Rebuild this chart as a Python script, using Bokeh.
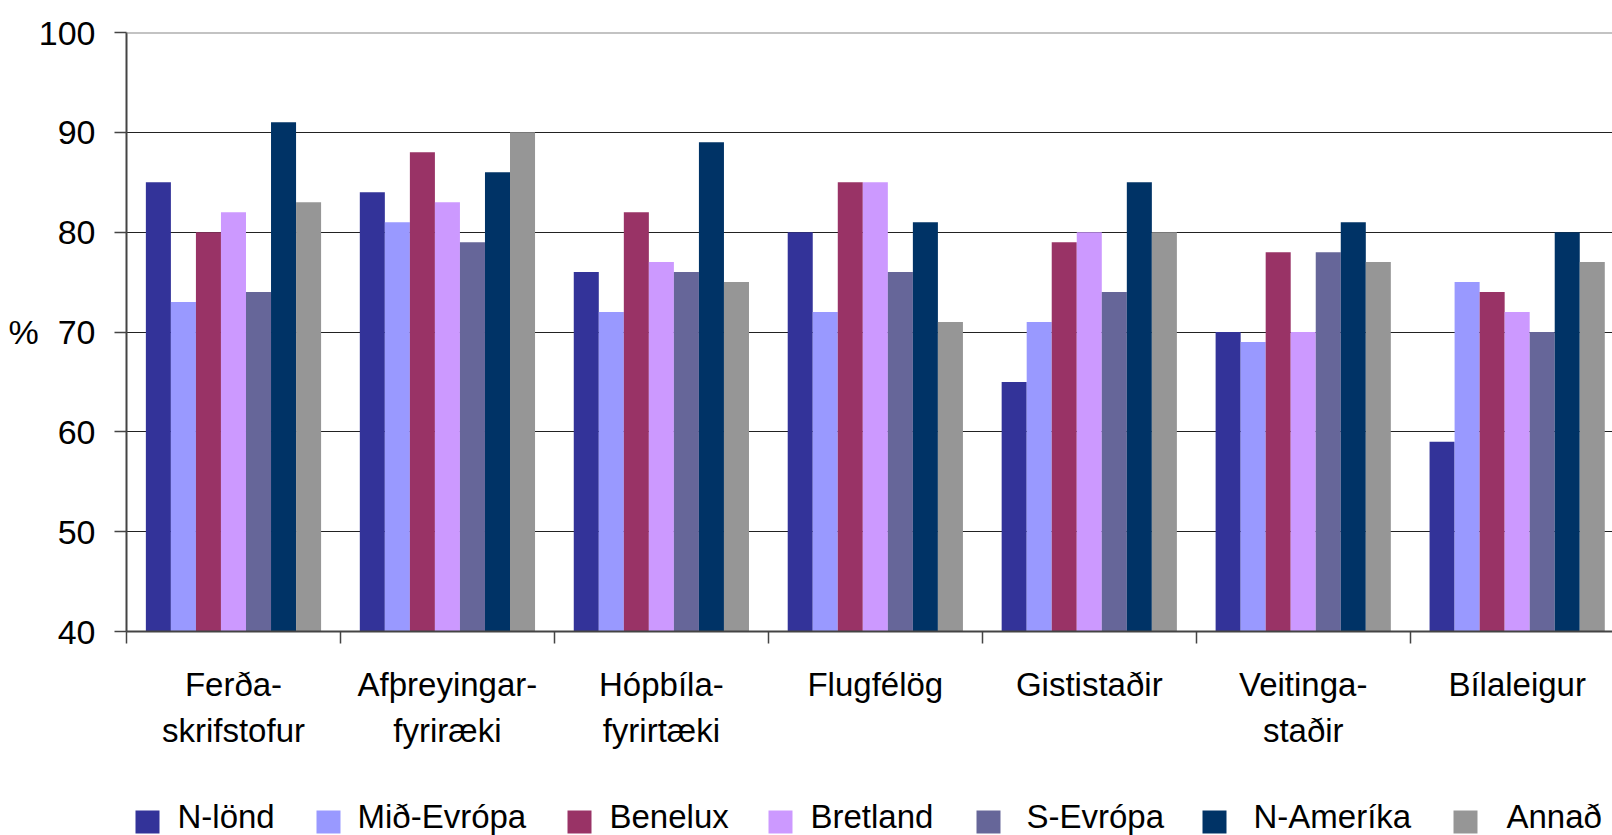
from bokeh.plotting import figure
from bokeh.layouts import column
from bokeh.models import Range1d, FixedTicker, LinearAxis, Span
from bokeh.core.properties import value
from bokeh.embed import file_html
from bokeh.resources import INLINE

# ---- data ----
cat_line1 = ["Ferða-", "Afþreyingar-", "Hópbíla-", "Flugfélög", "Gististaðir", "Veitinga-", "Bílaleigur"]
cat_line2 = ["skrifstofur", "fyriræki", "fyrirtæki", "", "", "staðir", ""]
series = ["N-lönd", "Mið-Evrópa", "Benelux", "Bretland", "S-Evrópa", "N-Ameríka", "Annað"]
colors = ["#333399", "#9999FF", "#993366", "#CC99FF", "#666699", "#003366", "#969696"]
N_lond = [85, 84, 76, 80, 65, 70, 59]
Mid_Evropa = [73, 81, 72, 72, 71, 69, 75]
Benelux = [80, 88, 82, 85, 79, 78, 74]
Bretland = [82, 83, 77, 85, 80, 70, 72]
S_Evropa = [74, 79, 76, 76, 74, 78, 70]
N_Amerika = [91, 86, 89, 81, 85, 81, 80]
Annad = [83, 90, 75, 71, 80, 77, 77]
values = [N_lond, Mid_Evropa, Benelux, Bretland, S_Evropa, N_Amerika, Annad]
y_ticks = [40, 50, 60, 70, 80, 90, 100]

# ---- layout ----
FONT = "Liberation Sans"
W, H = 1612, 760
LEG_H = 75
left, top = 126, 32
frame_bottom = 631
group_px = 213.95
x_end = (W - left) / group_px
bar_w = 0.117

p = figure(width=W, height=H, output_backend="svg", toolbar_location=None,
           x_range=Range1d(0, x_end), y_range=Range1d(y_ticks[0], y_ticks[-1]),
           min_border_left=left, min_border_top=top, min_border_right=0,
           min_border_bottom=H - frame_bottom)
p.outline_line_color = None
p.background_fill_color = "white"
p.border_fill_color = "white"

n_groups = len(cat_line1)
centers = [g + 0.5 for g in range(n_groups)]
for i, (name, vals, col) in enumerate(zip(series, values, colors)):
    xs = [c + (i - (len(series) - 1) / 2) * bar_w for c in centers]
    p.vbar(x=xs, top=vals, bottom=y_ticks[0], width=bar_w, fill_color=col, line_color=None)

# grid
p.xgrid.visible = False
p.ygrid.ticker = FixedTicker(ticks=y_ticks)
p.ygrid.grid_line_color = "#222222"
p.ygrid.grid_line_width = 1
p.add_layout(Span(location=y_ticks[-1], dimension="width", line_color="#888888", line_width=2))

# y axis
ya = p.yaxis[0]
ya.ticker = FixedTicker(ticks=y_ticks)
ya.major_label_overrides = {70: "%\u00a0\u00a070"}
ya.major_tick_out = 12
ya.major_tick_in = 0
ya.minor_tick_line_color = None
ya.major_label_standoff = 19
ya.major_label_text_font = FONT
ya.major_label_text_font_size = "34px"
ya.major_label_text_color = "black"
ya.axis_line_color = "#444444"
ya.axis_line_width = 2
ya.major_tick_line_color = "#444444"
ya.major_tick_line_width = 1.5

# x axis: first label line, group boundary ticks as minor ticks
xa = p.xaxis[0]
xa.ticker = FixedTicker(ticks=centers, minor_ticks=list(range(n_groups + 1)))
xa.major_label_overrides = {c: t for c, t in zip(centers, cat_line1)}
xa.major_tick_out = 0
xa.major_tick_in = 0
xa.major_tick_line_color = None
xa.minor_tick_out = 12
xa.minor_tick_in = 0
xa.minor_tick_line_color = "#444444"
xa.minor_tick_line_width = 1.5
xa.major_label_standoff = 22
xa.major_label_text_font = FONT
xa.major_label_text_font_size = "33px"
xa.major_label_text_color = "black"
xa.axis_line_color = "#444444"
xa.axis_line_width = 2

# second label line
xa2 = LinearAxis(ticker=FixedTicker(ticks=centers),
                 major_label_overrides={c: t for c, t in zip(centers, cat_line2)})
xa2.axis_line_color = None
xa2.major_tick_line_color = None
xa2.minor_tick_line_color = None
xa2.major_tick_out = 0
xa2.major_tick_in = 0
xa2.major_label_standoff = 6
xa2.major_label_text_font = FONT
xa2.major_label_text_font_size = "33px"
xa2.major_label_text_color = "black"
p.add_layout(xa2, "below")

# ---- legend strip (x in page pixels, y downward from strip top) ----
q = figure(width=W, height=LEG_H, output_backend="svg", toolbar_location=None,
           x_range=Range1d(left, W), y_range=Range1d(LEG_H, 0),
           min_border_left=left, min_border_right=0, min_border_top=0, min_border_bottom=0,
           x_axis_type=None, y_axis_type=None)
q.outline_line_color = None
q.grid.visible = False
q.background_fill_color = "white"
q.border_fill_color = "white"

key_left = [135, 316, 567, 768, 976, 1202, 1453]
key_text_x = [177, 357, 609, 810, 1026, 1253, 1506]
key_size = 24
key_top, key_bottom = 50, 73
text_baseline_y = 56

q.quad(left=key_left, right=[k + key_size for k in key_left],
       top=[key_top] * len(series), bottom=[key_bottom] * len(series),
       fill_color=colors, line_color=None)
q.text(x=key_text_x, y=[text_baseline_y] * len(series), text=series,
       text_font=value(FONT), text_font_size="33px", text_color="black",
       text_align="left", text_baseline="alphabetic")

layout = column(p, q, spacing=0)
open("out.html", "w").write(file_html(layout, INLINE))
